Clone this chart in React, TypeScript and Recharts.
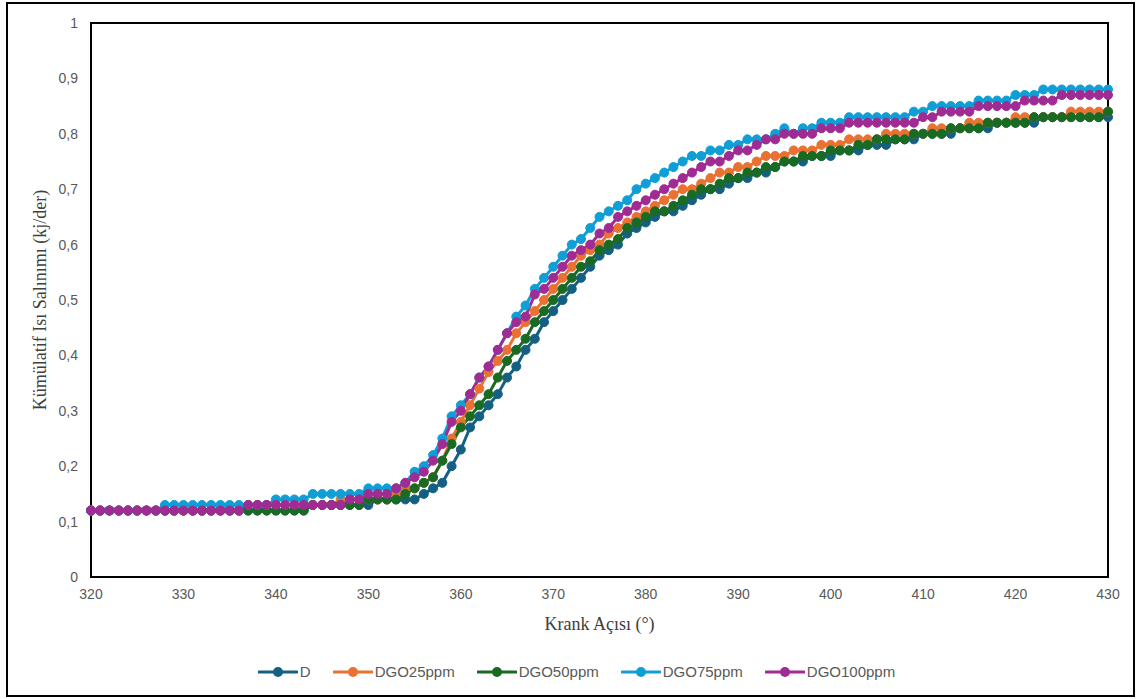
import React from 'react';
import { LineChart, Line, XAxis, YAxis, ReferenceArea } from 'recharts';

// Crank angle (degrees), one sample per degree
const angles = [
  320, 321, 322, 323, 324, 325, 326, 327, 328, 329,
  330, 331, 332, 333, 334, 335, 336, 337, 338, 339,
  340, 341, 342, 343, 344, 345, 346, 347, 348, 349,
  350, 351, 352, 353, 354, 355, 356, 357, 358, 359,
  360, 361, 362, 363, 364, 365, 366, 367, 368, 369,
  370, 371, 372, 373, 374, 375, 376, 377, 378, 379,
  380, 381, 382, 383, 384, 385, 386, 387, 388, 389,
  390, 391, 392, 393, 394, 395, 396, 397, 398, 399,
  400, 401, 402, 403, 404, 405, 406, 407, 408, 409,
  410, 411, 412, 413, 414, 415, 416, 417, 418, 419,
  420, 421, 422, 423, 424, 425, 426, 427, 428, 429,
  430,
];

// Cumulative heat release (kJ/deg) per fuel blend
const dValues = [
  0.12, 0.12, 0.12, 0.12, 0.12, 0.12, 0.12, 0.12, 0.12, 0.12,
  0.12, 0.12, 0.12, 0.12, 0.12, 0.12, 0.12, 0.12, 0.12, 0.12,
  0.12, 0.12, 0.12, 0.12, 0.13, 0.13, 0.13, 0.13, 0.13, 0.13,
  0.13, 0.14, 0.14, 0.14, 0.14, 0.14, 0.15, 0.16, 0.17, 0.20,
  0.23, 0.27, 0.29, 0.31, 0.33, 0.36, 0.38, 0.41, 0.43, 0.46,
  0.48, 0.50, 0.52, 0.54, 0.56, 0.58, 0.59, 0.60, 0.62, 0.63,
  0.64, 0.65, 0.66, 0.66, 0.67, 0.68, 0.69, 0.70, 0.70, 0.71,
  0.72, 0.72, 0.73, 0.73, 0.74, 0.75, 0.75, 0.75, 0.76, 0.76,
  0.76, 0.77, 0.77, 0.77, 0.78, 0.78, 0.78, 0.79, 0.79, 0.79,
  0.80, 0.80, 0.80, 0.80, 0.81, 0.81, 0.81, 0.81, 0.82, 0.82,
  0.82, 0.82, 0.82, 0.83, 0.83, 0.83, 0.83, 0.83, 0.83, 0.83,
  0.83,
];

const dgo25Values = [
  0.12, 0.12, 0.12, 0.12, 0.12, 0.12, 0.12, 0.12, 0.12, 0.12,
  0.12, 0.12, 0.12, 0.12, 0.12, 0.12, 0.12, 0.13, 0.13, 0.13,
  0.13, 0.13, 0.13, 0.13, 0.13, 0.13, 0.13, 0.14, 0.14, 0.14,
  0.14, 0.14, 0.14, 0.15, 0.16, 0.16, 0.17, 0.18, 0.21, 0.25,
  0.28, 0.31, 0.34, 0.37, 0.39, 0.41, 0.44, 0.46, 0.48, 0.50,
  0.52, 0.54, 0.56, 0.58, 0.59, 0.60, 0.62, 0.63, 0.64, 0.65,
  0.66, 0.67, 0.68, 0.69, 0.70, 0.70, 0.71, 0.72, 0.73, 0.73,
  0.74, 0.74, 0.75, 0.76, 0.76, 0.76, 0.77, 0.77, 0.77, 0.78,
  0.78, 0.78, 0.79, 0.79, 0.79, 0.79, 0.80, 0.80, 0.80, 0.80,
  0.80, 0.81, 0.81, 0.81, 0.81, 0.82, 0.82, 0.82, 0.82, 0.82,
  0.83, 0.83, 0.83, 0.83, 0.83, 0.83, 0.84, 0.84, 0.84, 0.84,
  0.84,
];

const dgo50Values = [
  0.12, 0.12, 0.12, 0.12, 0.12, 0.12, 0.12, 0.12, 0.12, 0.12,
  0.12, 0.12, 0.12, 0.12, 0.12, 0.12, 0.12, 0.12, 0.12, 0.12,
  0.12, 0.12, 0.12, 0.12, 0.13, 0.13, 0.13, 0.13, 0.13, 0.13,
  0.14, 0.14, 0.14, 0.14, 0.15, 0.16, 0.17, 0.18, 0.21, 0.24,
  0.27, 0.29, 0.31, 0.33, 0.36, 0.39, 0.41, 0.43, 0.46, 0.48,
  0.50, 0.52, 0.54, 0.56, 0.57, 0.59, 0.60, 0.61, 0.63, 0.64,
  0.65, 0.66, 0.66, 0.67, 0.68, 0.69, 0.70, 0.70, 0.71, 0.72,
  0.72, 0.73, 0.73, 0.74, 0.74, 0.75, 0.75, 0.76, 0.76, 0.76,
  0.77, 0.77, 0.77, 0.78, 0.78, 0.79, 0.79, 0.79, 0.79, 0.80,
  0.80, 0.80, 0.80, 0.81, 0.81, 0.81, 0.81, 0.82, 0.82, 0.82,
  0.82, 0.82, 0.83, 0.83, 0.83, 0.83, 0.83, 0.83, 0.83, 0.83,
  0.84,
];

const dgo75Values = [
  0.12, 0.12, 0.12, 0.12, 0.12, 0.12, 0.12, 0.12, 0.13, 0.13,
  0.13, 0.13, 0.13, 0.13, 0.13, 0.13, 0.13, 0.13, 0.13, 0.13,
  0.14, 0.14, 0.14, 0.14, 0.15, 0.15, 0.15, 0.15, 0.15, 0.15,
  0.16, 0.16, 0.16, 0.16, 0.17, 0.19, 0.20, 0.22, 0.25, 0.29,
  0.31, 0.33, 0.36, 0.38, 0.41, 0.44, 0.47, 0.49, 0.52, 0.54,
  0.56, 0.58, 0.60, 0.61, 0.63, 0.65, 0.66, 0.67, 0.68, 0.70,
  0.71, 0.72, 0.73, 0.74, 0.75, 0.76, 0.76, 0.77, 0.77, 0.78,
  0.78, 0.79, 0.79, 0.79, 0.80, 0.81, 0.80, 0.81, 0.81, 0.82,
  0.82, 0.82, 0.83, 0.83, 0.83, 0.83, 0.83, 0.83, 0.83, 0.84,
  0.84, 0.85, 0.85, 0.85, 0.85, 0.85, 0.86, 0.86, 0.86, 0.86,
  0.87, 0.87, 0.87, 0.88, 0.88, 0.88, 0.88, 0.88, 0.88, 0.88,
  0.88,
];

const dgo100Values = [
  0.12, 0.12, 0.12, 0.12, 0.12, 0.12, 0.12, 0.12, 0.12, 0.12,
  0.12, 0.12, 0.12, 0.12, 0.12, 0.12, 0.12, 0.13, 0.13, 0.13,
  0.13, 0.13, 0.13, 0.13, 0.13, 0.13, 0.13, 0.13, 0.14, 0.14,
  0.15, 0.15, 0.15, 0.16, 0.17, 0.18, 0.19, 0.21, 0.24, 0.28,
  0.30, 0.33, 0.36, 0.38, 0.41, 0.44, 0.46, 0.47, 0.51, 0.52,
  0.54, 0.56, 0.58, 0.59, 0.60, 0.62, 0.63, 0.65, 0.66, 0.67,
  0.68, 0.69, 0.70, 0.71, 0.72, 0.73, 0.74, 0.75, 0.75, 0.76,
  0.77, 0.77, 0.78, 0.79, 0.79, 0.80, 0.80, 0.80, 0.80, 0.81,
  0.81, 0.81, 0.82, 0.82, 0.82, 0.82, 0.82, 0.82, 0.82, 0.82,
  0.83, 0.83, 0.84, 0.84, 0.84, 0.84, 0.85, 0.85, 0.85, 0.85,
  0.85, 0.86, 0.86, 0.86, 0.86, 0.87, 0.87, 0.87, 0.87, 0.87,
  0.87,
];

const xTicks = [320, 330, 340, 350, 360, 370, 380, 390, 400, 410, 420, 430];
const yTicks = [0, 0.1, 0.2, 0.3, 0.4, 0.5, 0.6, 0.7, 0.8, 0.9, 1];

const series = [
  { key: 'D', color: '#156082', values: dValues },
  { key: 'DGO25ppm', color: '#E97132', values: dgo25Values },
  { key: 'DGO50ppm', color: '#196B24', values: dgo50Values },
  { key: 'DGO75ppm', color: '#0F9ED5', values: dgo75Values },
  { key: 'DGO100ppm', color: '#A02B93', values: dgo100Values },
];

const rows = angles.map((angle, i) => {
  const row: Record<string, number> = { angle };
  series.forEach((s) => {
    row[s.key] = s.values[i];
  });
  return row;
});

const tickFont = {
  fontFamily: "'Liberation Sans', Arial, sans-serif",
  fontSize: 14,
  fill: '#595959',
};

const titleFont = "'Liberation Serif', 'Times New Roman', serif";

const formatComma = (v: number) => String(v).replace('.', ',');

const XTitle = (props: any) => {
  const vb = props.viewBox || {};
  return (
    <text
      x={vb.x + vb.width / 2}
      y={vb.y + 53}
      textAnchor="middle"
      fontFamily={titleFont}
      fontSize={18}
      fill="#404040"
    >
      Krank Açısı (°)
    </text>
  );
};

const YTitle = (props: any) => {
  const vb = props.viewBox || {};
  const cx = vb.x + 32;
  const cy = vb.y + vb.height / 2;
  return (
    <text
      x={cx}
      y={cy}
      transform={`rotate(-90 ${cx} ${cy})`}
      textAnchor="middle"
      dominantBaseline="central"
      fontFamily={titleFont}
      fontSize={18}
      fill="#404040"
    >
      Kümülatif Isı Salınımı (kj/der)
    </text>
  );
};

const LegendRow = () => (
  <div
    style={{
      position: 'absolute',
      left: 12,
      right: 0,
      top: 659,
      display: 'flex',
      justifyContent: 'center',
      alignItems: 'center',
      fontFamily: "'Liberation Sans Narrow', 'Liberation Sans', Arial, sans-serif",
      fontSize: 15,
      color: '#595959',
    }}
  >
    {series.map((s, i) => (
      <div
        key={s.key}
        style={{ display: 'flex', alignItems: 'center', marginRight: i < series.length - 1 ? 22 : 0 }}
      >
        <svg width={40} height={14} style={{ marginRight: 2 }}>
          <line x1={1} y1={7} x2={39} y2={7} stroke={s.color} strokeWidth={3} strokeLinecap="round" />
          <circle cx={20} cy={7} r={5} fill={s.color} />
        </svg>
        <span>{s.key}</span>
      </div>
    ))}
  </div>
);

export default function App() {
  return (
    <div
      style={{
        position: 'absolute',
        left: 6,
        top: 2,
        width: 1129,
        height: 695,
        boxSizing: 'border-box',
        border: '2px solid #000',
        background: '#fff',
      }}
    >
      <LineChart
        width={1125}
        height={691}
        data={rows}
        margin={{ top: 19, right: 25, bottom: 58, left: 0 }}
      >
        <XAxis
          dataKey="angle"
          type="number"
          domain={[320, 430]}
          ticks={xTicks}
          tickLine={false}
          axisLine={false}
          tickSize={0}
          tickMargin={12}
          height={60}
          tick={tickFont}
          label={<XTitle />}
        />
        <YAxis
          type="number"
          domain={[0, 1]}
          ticks={yTicks}
          tickLine={false}
          axisLine={false}
          tickSize={0}
          tickMargin={13}
          width={83}
          tick={tickFont}
          tickFormatter={formatComma}
          label={<YTitle />}
        />
        <ReferenceArea
          x1={320}
          x2={430}
          y1={0}
          y2={1}
          fill="none"
          stroke="#000"
          strokeWidth={2}
          ifOverflow="visible"
        />
        {series.map((s) => (
          <Line
            key={s.key}
            type="linear"
            dataKey={s.key}
            name={s.key}
            stroke={s.color}
            strokeWidth={3}
            dot={{ r: 4.5, fill: s.color, stroke: s.color, strokeWidth: 1 }}
            activeDot={false}
            isAnimationActive={false}
          />
        ))}
      </LineChart>
      <LegendRow />
    </div>
  );
}
